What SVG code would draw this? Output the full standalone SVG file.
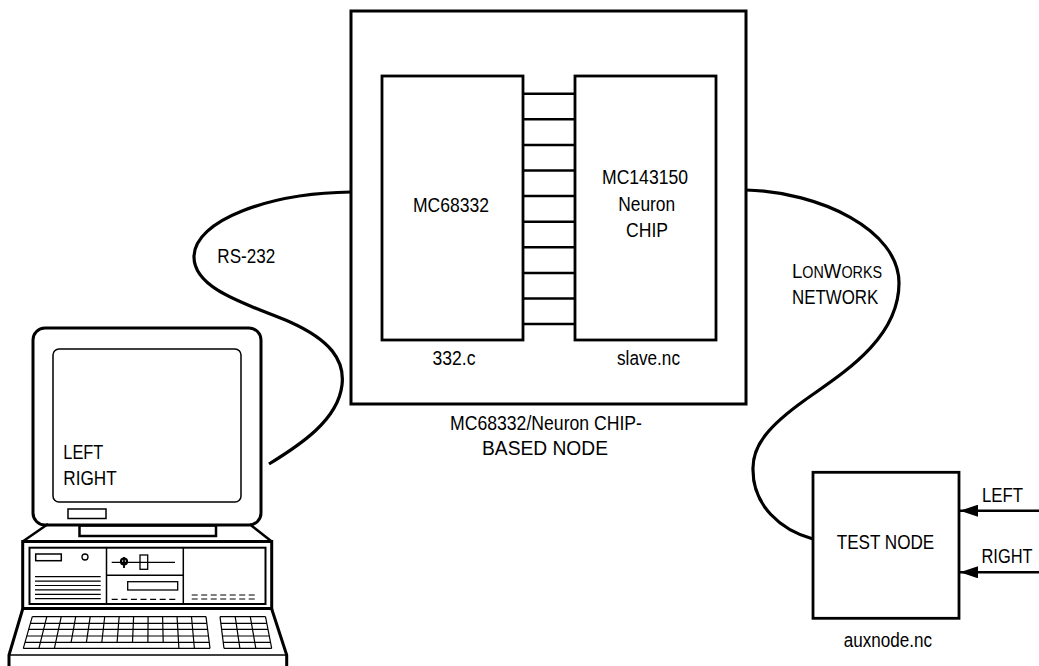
<svg xmlns="http://www.w3.org/2000/svg" width="1039" height="666" viewBox="0 0 1039 666">
  <style>
    .t { font-family: "Liberation Sans Narrow", "Liberation Sans", Arial, sans-serif; font-size: 20.5px; fill: #000; }
    .m { text-anchor: middle; }
    .box { fill: none; stroke: #000; stroke-width: 3; }
    .chip { fill: #fff; stroke: #000; stroke-width: 2.8; }
    .cable { fill: none; stroke: #000; stroke-width: 3.2; stroke-linecap: butt; }
    .bus { stroke: #000; stroke-width: 2.5; }
    .sig { stroke: #000; stroke-width: 2.5; }
    .ln { fill: none; stroke: #000; }
    .kb { fill: none; stroke: #000; stroke-width: 1.2; }
  </style>
  <defs>
    <marker id="arrow" viewBox="0 0 18 12" refX="18" refY="6" markerWidth="18" markerHeight="12" markerUnits="userSpaceOnUse" orient="auto">
      <path d="M0 0 L18 6 L0 12 Z" fill="#000"/>
    </marker>
  </defs>

  <rect width="1039" height="666" fill="#fff"/>

  <!-- MC68332 / Neuron CHIP based node (outer box) -->
  <g id="node-main">
    <rect class="box" x="351" y="11" width="395" height="393"/>
    <text class="t m" x="546" y="430" textLength="192" lengthAdjust="spacingAndGlyphs">MC68332/Neuron CHIP-</text>
    <text class="t m" x="545" y="455" textLength="126" lengthAdjust="spacingAndGlyphs">BASED NODE</text>
  </g>

  <!-- cables, bus and input signals -->
  <g id="connectors">
    <path class="cable" d="M351 192 C 270 193 194 220 194 257 C 194 290 250 305 290 322 C 330 340 345 360 342 385 C 338 420 300 445 269 464"/>
    <path class="cable" d="M746 190 C 820 192 899 230 899 283 C 899 340 840 375 805 400 C 770 425 752 445 753 470 C 753 505 780 530 813 539"/>
    <g id="bus">
      <line class="bus" x1="523" y1="93.7" x2="575" y2="93.7"/>
      <line class="bus" x1="523" y1="119.3" x2="575" y2="119.3"/>
      <line class="bus" x1="523" y1="144.9" x2="575" y2="144.9"/>
      <line class="bus" x1="523" y1="170.5" x2="575" y2="170.5"/>
      <line class="bus" x1="523" y1="196.1" x2="575" y2="196.1"/>
      <line class="bus" x1="523" y1="221.7" x2="575" y2="221.7"/>
      <line class="bus" x1="523" y1="247.3" x2="575" y2="247.3"/>
      <line class="bus" x1="523" y1="272.9" x2="575" y2="272.9"/>
      <line class="bus" x1="523" y1="298.5" x2="575" y2="298.5"/>
      <line class="bus" x1="523" y1="324" x2="575" y2="324"/>
    </g>
    <line class="sig" x1="1039" y1="510.7" x2="960" y2="510.7" marker-end="url(#arrow)"/>
    <line class="sig" x1="1039" y1="572.3" x2="960" y2="572.3" marker-end="url(#arrow)"/>
  </g>

  <g id="chip-mc68332">
    <rect class="chip" x="382" y="76" width="141" height="264"/>
    <text class="t m" x="451" y="212" textLength="76" lengthAdjust="spacingAndGlyphs">MC68332</text>
    <text class="t m" x="454" y="365" textLength="43" lengthAdjust="spacingAndGlyphs">332.c</text>
  </g>
  <g id="chip-neuron">
    <rect class="chip" x="575" y="76" width="141" height="264"/>
    <text class="t m" x="645" y="184.3" textLength="86" lengthAdjust="spacingAndGlyphs">MC143150</text>
    <text class="t m" x="646.7" y="211" textLength="57" lengthAdjust="spacingAndGlyphs">Neuron</text>
    <text class="t m" x="647" y="237.3" textLength="42" lengthAdjust="spacingAndGlyphs">CHIP</text>
    <text class="t m" x="648.5" y="365" textLength="63" lengthAdjust="spacingAndGlyphs">slave.nc</text>
  </g>

  <!-- cable labels -->
  <g id="label-rs232">
    <text class="t" x="217.3" y="263.3" textLength="58" lengthAdjust="spacingAndGlyphs">RS-232</text>
  </g>
  <g id="label-lonworks">
    <text class="t" x="792" y="277.7" textLength="90" lengthAdjust="spacingAndGlyphs">L<tspan font-size="15.8">ON</tspan>W<tspan font-size="15.8">ORKS</tspan></text>
    <text class="t" x="792" y="304" textLength="86.3" lengthAdjust="spacingAndGlyphs">NETWORK</text>
  </g>

  <!-- test node -->
  <g id="test-node">
    <rect class="chip" x="813" y="472.3" width="146" height="146"/>
    <text class="t m" x="885.5" y="549" textLength="97.6" lengthAdjust="spacingAndGlyphs">TEST NODE</text>
    <text class="t m" x="888" y="646.7" textLength="88.3" lengthAdjust="spacingAndGlyphs">auxnode.nc</text>
    <text class="t" transform="translate(982 501.7) scale(0.82 1)">LEFT</text>
    <text class="t" transform="translate(981.5 563.3) scale(0.8 1)">RIGHT</text>
  </g>

  <!-- personal computer -->
  <g id="computer">
    <!-- monitor -->
    <rect class="ln" x="33" y="328" width="228" height="197" rx="12" stroke-width="3"/>
    <rect class="ln" x="53" y="349" width="188" height="153" rx="6" stroke-width="1.5"/>
    <text class="t" x="63.3" y="459.3" textLength="40" lengthAdjust="spacingAndGlyphs">LEFT</text>
    <text class="t" x="63.3" y="485" textLength="53.4" lengthAdjust="spacingAndGlyphs">RIGHT</text>
    <rect class="ln" x="68" y="509" width="38" height="9.5" stroke-width="1.5"/>
    <rect class="ln" x="79.5" y="525.5" width="136.5" height="10.5" stroke-width="2.5"/>
    <!-- system unit -->
    <path class="ln" d="M48 524 L22.7 541.5 M250 524.5 L271.7 541.5" stroke-width="2.5"/>
    <rect class="ln" x="22.7" y="541.5" width="249" height="67" stroke-width="3"/>
    <rect class="ln" x="29.5" y="547.7" width="236" height="56.3" stroke-width="2"/>
    <line class="ln" x1="106.5" y1="547.7" x2="106.5" y2="604" stroke-width="1.5"/>
    <line class="ln" x1="183.3" y1="547.7" x2="183.3" y2="604" stroke-width="1.5"/>
    <line class="ln" x1="106.5" y1="575.3" x2="183.3" y2="575.3" stroke-width="1.5"/>
    <!-- left bay -->
    <rect class="ln" x="35.7" y="554" width="25.6" height="6.7" stroke-width="1.5"/>
    <circle class="ln" cx="85" cy="557" r="3" stroke-width="1.3"/>
    <g class="ln" stroke-width="1.2">
      <line x1="35" y1="576.7" x2="100.7" y2="576.7"/>
      <line x1="35" y1="581.1" x2="100.7" y2="581.1"/>
      <line x1="35" y1="585.5" x2="100.7" y2="585.5"/>
      <line x1="35" y1="589.9" x2="100.7" y2="589.9"/>
      <line x1="35" y1="594.3" x2="100.7" y2="594.3"/>
      <line x1="35" y1="598.7" x2="100.7" y2="598.7"/>
    </g>
    <!-- middle bays -->
    <line class="ln" x1="111.7" y1="562.3" x2="175" y2="562.3" stroke-width="1.2"/>
    <circle class="ln" cx="124" cy="561.5" r="3" stroke-width="2.2"/>
    <line class="ln" x1="124" y1="557" x2="124" y2="568" stroke-width="1.8"/>
    <rect class="ln" x="140" y="555" width="7.7" height="14.3" stroke-width="1.3"/>
    <rect class="ln" x="127.7" y="581.7" width="50" height="8.3" stroke-width="1.3"/>
    <line class="ln" x1="111.7" y1="599.3" x2="177" y2="599.3" stroke-width="1.2" stroke-dasharray="6 3.6"/>
    <!-- right bay -->
    <line class="ln" x1="191.7" y1="595" x2="258" y2="595" stroke-width="1.2" stroke-dasharray="6 3.5"/>
    <line class="ln" x1="191.7" y1="599" x2="258" y2="599" stroke-width="1.2" stroke-dasharray="6 3.5"/>
    <!-- keyboard deck -->
    <path class="ln" d="M22.7 609 L9 655 L9 666 M271.7 609 L286.7 655 L286.7 666" stroke-width="3"/>
    <line class="ln" x1="9" y1="655" x2="286.7" y2="655" stroke-width="1.5"/>
    <!-- main key field -->
    <g class="kb">
      <path d="M32.3 616.7 H206 M30.4 623.3 H206.8 M28.7 629.3 H207.6 M26.8 636 H208.4 M25 642.3 H209.2 M23.3 648.3 H210"/>
      <path d="M32.3 616.7 L23.3 648.3 M46.8 616.7 L38.9 648.3 M61.25 616.7 L54.4 648.3 M75.7 616.7 L71.1 642.3 M90.2 616.7 L86.4 642.3 M104.7 616.7 L101.8 642.3 M119.15 616.7 L117.1 642.3 M133.6 616.7 L132.5 642.3 M148.1 616.7 L147.9 642.3 M162.6 616.7 L163.2 642.3 M177.05 616.7 L178.9 648.3 M191.5 616.7 L194.4 648.3 M206 616.7 L210 648.3"/>
    </g>
    <!-- numeric keypad -->
    <g class="kb">
      <path d="M220 616.7 H265.5 M220.8 623.3 H266.8 M221.6 629.3 H268 M222.4 636 H269.3 M223.2 642.3 H270.5 M224 648.3 H271.7"/>
      <path d="M220 616.7 L224 648.3 M235.2 616.7 L239.9 648.3 M250.3 616.7 L255.8 648.3 M265.5 616.7 L271.7 648.3"/>
    </g>
  </g>
</svg>
